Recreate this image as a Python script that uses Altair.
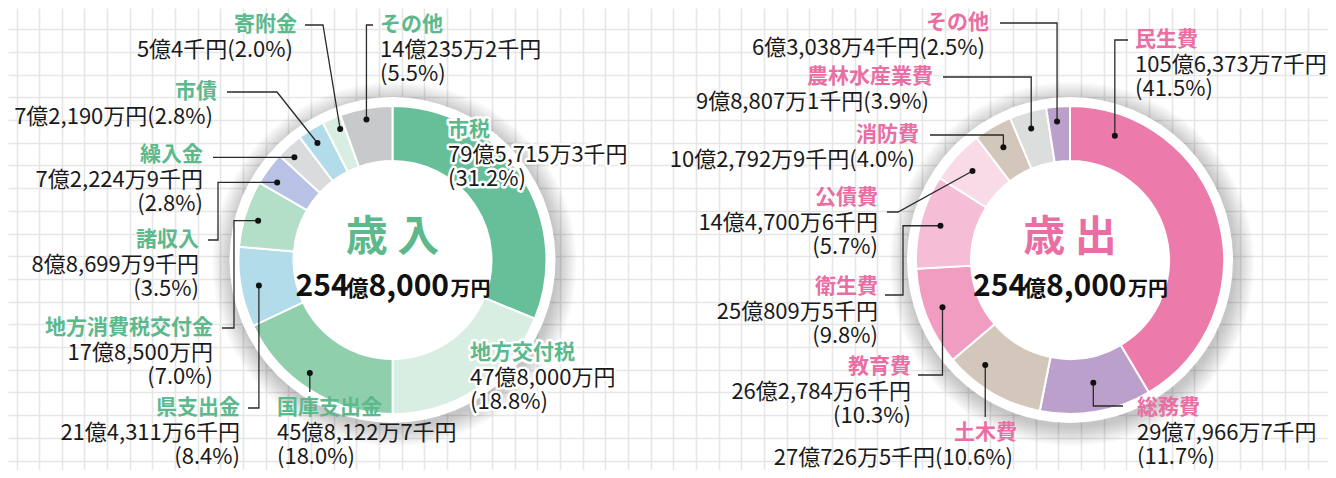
import altair as alt
import numpy as np
import pandas as pd

# ------------------------------------------------------------------ data
# 歳入 (revenue), amounts in 千円
rev_names = ["市税", "地方交付税", "国庫支出金", "県支出金", "地方消費税交付金",
             "諸収入", "繰入金", "市債", "寄附金", "その他"]
rev_amounts = [7957153, 4780000, 4581227, 2143116, 1785000,
               886999, 722249, 721900, 500004, 1402352]
rev_pcts = [31.2, 18.8, 18.0, 8.4, 7.0, 3.5, 2.8, 2.8, 2.0, 5.5]
rev_colors = ["#66bf98", "#d9eee2", "#8fcfac", "#b2dcea", "#b3dec7",
              "#b8c2e4", "#d9dbdc", "#b2dcea", "#d9eee2", "#c8c9ca"]

# 歳出 (expenditure), amounts in 千円
exp_names = ["民生費", "総務費", "土木費", "教育費", "衛生費",
             "公債費", "消防費", "農林水産業費", "その他"]
exp_amounts = [10563737, 2979667, 2707265, 2627846, 2508095,
               1447006, 1027929, 988071, 630384]
exp_pcts = [41.5, 11.7, 10.6, 10.3, 9.8, 5.7, 4.0, 3.9, 2.5]
exp_colors = ["#ec7aab", "#bca0cc", "#d3c6ba", "#f09dc1", "#f5bdd6",
              "#f9dbe8", "#d3c6ba", "#dcdddd", "#bca0cc"]

titles = ["歳 入", "歳 出"]
totals = [25480000, 25480000]

# ------------------------------------------------------------------ layout / style
FONT = "Noto Sans CJK JP"
GREEN = "#5cb98c"
PINK = "#ea6ea3"
CENTERS = [(392.5, 260.0), (1070.0, 260.0)]
R_IN, R_OUT, R_DISK = 99, 154, 163
NAME_SIZE, VAL_SIZE, LINE_H = 21, 22, 24.5
HALO = {"市税", "地方交付税"}

# label layout: align, x, name centre y, pct on own line, leader spec
rev_layout = [
    ("left", 448, 130, True, None),
    ("left", 470, 353, True, None),
    ("left", 277, 408, True, ("v", 392)),
    ("right", 240, 408, True, ("hv", 248, 408)),
    ("right", 213, 328, True, ("hvh", 222, 328, 234)),
    ("right", 199, 240, True, ("hvh", 208, 240, 218)),
    ("right", 203, 155, True, ("h", 213)),
    ("right", 217, 92, False, ("hd", 227, 92, 277)),
    ("right", 297, 25, False, ("hd", 305, 25, 323)),
    ("left", 380, 25, True, ("hv", 373, 25)),
]
rev_dots = [None, None, (0.56, 140), (0.48, 136), (0.45, 140), (0.3, 139),
            (0.35, 142), (0.43, 139), (0.72, 141), (0.47, 143)]

exp_layout = [
    ("left", 1135, 40, True, ("hv", 1128, 40)),
    ("left", 1137, 408, True, ("hv", 1123, 406)),
    ("right", 1017, 433, False, ("v", 417)),
    ("right", 911, 367, True, ("hv", 918, 375)),
    ("right", 878, 287, True, ("hvh", 885, 295, 903)),
    ("right", 878, 198, True, ("hd", 887, 212, 898)),
    ("right", 919, 135, False, ("hv", 930, 135)),
    ("right", 933, 77, False, ("hv", 943, 77)),
    ("right", 989, 23, False, ("hv", 1000, 23)),
]
exp_dots = [(0.133, 132), (0.475, 125), (0.72, 135), (0.54, 136), (0.51, 134),
            (0.5, 132), (0.47, 131), (0.46, 137), (0.4, 139)]
PAREN_SHIFT = 4  # right-aligned single lines ending in ")" sit a little left


def fmt_yen(v):
    oku, rest = divmod(v, 100000)
    man, sen = divmod(rest, 10)
    s = f"{oku}億"
    if man:
        s += f"{man:,}万"
    if sen:
        s += f"{sen}千"
    return s + "円"


def base_y(center, size):
    # Vega 'middle' baseline == alphabetic baseline shifted by round(0.3*size)
    return center + round(0.3 * size)


slices, leaders, dots, texts = [], [], [], []
lid = 0
for di, (names, amounts, pcts, colors, layout, dotspec, ncolor) in enumerate([
        (rev_names, rev_amounts, rev_pcts, rev_colors, rev_layout, rev_dots, GREEN),
        (exp_names, exp_amounts, exp_pcts, exp_colors, exp_layout, exp_dots, PINK)]):
    cx, cy = CENTERS[di]
    tot = float(sum(amounts))
    cum = np.concatenate([[0.0], np.cumsum(amounts)]) / tot * 2 * np.pi
    for i, nm in enumerate(names):
        t0, t1 = cum[i], cum[i + 1]
        slices.append(dict(cx=cx, cy=cy, t0=t0, t1=t1, color=colors[i], name=nm))
        al, ax, ay, split, leader = layout[i]
        halo = (di == 0 and nm in HALO)
        texts.append(dict(x=ax, y=base_y(ay, NAME_SIZE), text=[nm], color=ncolor,
                          kind="name", al=al, halo=halo))
        amt = fmt_yen(amounts[i])
        pct = f"({pcts[i]:.1f}%)"
        lines = [amt, pct] if split else [amt + pct]
        xx = ax - PAREN_SHIFT if (al == "right" and not split) else ax
        texts.append(dict(x=xx, y=base_y(ay + LINE_H, VAL_SIZE), text=lines,
                          color="#1a1a1a", kind="val", al=al, halo=halo))
        if dotspec[i] is not None:
            frac, rr = dotspec[i]
            a = t0 + frac * (t1 - t0)
            dx, dy = cx + rr * np.sin(a), cy - rr * np.cos(a)
            dots.append(dict(x=dx, y=dy))
            kind = leader[0]
            if kind == "v":
                pts = [(dx, dy), (dx, leader[1])]
            elif kind == "hv":
                pts = [(leader[1], leader[2]), (dx, leader[2]), (dx, dy)]
            elif kind == "hvh":
                pts = [(leader[1], leader[2]), (leader[3], leader[2]), (leader[3], dy), (dx, dy)]
            elif kind == "h":
                pts = [(leader[1], dy), (dx, dy)]
            else:  # hd
                pts = [(leader[1], leader[2]), (leader[3], leader[2]), (dx, dy)]
            for k, (px, py) in enumerate(pts):
                leaders.append(dict(id=lid, k=k, x=px, y=py))
            lid += 1

slices = pd.DataFrame(slices)
leaders = pd.DataFrame(leaders)
dots = pd.DataFrame(dots)
texts = pd.DataFrame(texts)

disk = pd.DataFrame([dict(cx=c[0], cy=c[1], t0=0.0, t1=2 * np.pi) for c in CENTERS])
shadow = pd.DataFrame([dict(cx=c[0] + 2, cy=c[1] + 4, t0=0.0, t1=2 * np.pi, r=R_DISK + 1 + 2 * k)
                       for c in CENTERS for k in range(10)])

title_df = pd.DataFrame([dict(x=CENTERS[i][0], y=238, text=titles[i],
                              color=[GREEN, PINK][i]) for i in range(2)])
# total "254億8,000万円" split into big/small segments
segs = []
for i in range(2):
    t = fmt_yen(totals[i])  # 254億8,000万円
    oku, rest = t.split("億")
    man = rest.split("万")[0]
    for s, sz, off in [(oku, 30, -97), ("億", 22, -46), (man, 30, -24), ("万円", 20, 58)]:
        segs.append(dict(x=CENTERS[i][0] + off, y=296, text=s, size=sz))
segs = pd.DataFrame(segs)

# ------------------------------------------------------------------ scales
grid_x = [round(16.5 + 22.65 * k, 2) for k in range(59)]
grid_y = [round(6.5 + 22.7 * k, 2) for k in range(21)]
xscale = alt.Scale(domain=[8, 1328], nice=False, zero=False)
yscale = alt.Scale(domain=[8, 470], nice=False, zero=False, reverse=True)
xaxis = alt.Axis(values=grid_x, grid=True, labels=False, ticks=False, domain=False,
                 title=None, gridColor="#e6e6e6", gridWidth=1.6)
yaxis = alt.Axis(values=grid_y, grid=True, labels=False, ticks=False, domain=False,
                 title=None, gridColor="#e6e6e6", gridWidth=1.6)


def X(f):
    return alt.X(f, type="quantitative", scale=xscale, axis=xaxis)


def Y(f):
    return alt.Y(f, type="quantitative", scale=yscale, axis=yaxis)


shadow_layer = alt.Chart(shadow).mark_arc(fill="#000000", opacity=0.025).encode(
    x=X("cx"), y=Y("cy"),
    theta=alt.Theta("t0:Q", scale=None), theta2=alt.Theta2("t1"),
    radius=alt.Radius("r:Q", scale=None))

disk_layer = alt.Chart(disk).mark_arc(fill="white", outerRadius=R_DISK).encode(
    x=X("cx"), y=Y("cy"),
    theta=alt.Theta("t0:Q", scale=None), theta2=alt.Theta2("t1"))

arc_layer = alt.Chart(slices).mark_arc(innerRadius=R_IN, outerRadius=R_OUT,
                                       stroke="white", strokeWidth=2).encode(
    x=X("cx"), y=Y("cy"),
    theta=alt.Theta("t0:Q", scale=None), theta2=alt.Theta2("t1"),
    color=alt.Color("color:N", scale=None))

leader_layer = alt.Chart(leaders).mark_line(color="#2a2a2a", strokeWidth=1.3).encode(
    x=X("x"), y=Y("y"), detail="id:N", order="k:Q")

dot_layer = alt.Chart(dots).mark_circle(size=36, color="#111111", opacity=1).encode(
    x=X("x"), y=Y("y"))

text_layers = []
for kind, size, weight in [("name", NAME_SIZE, "bold"), ("val", VAL_SIZE, "normal")]:
    for al in ["left", "right"]:
        sub = texts[(texts["kind"] == kind) & (texts["al"] == al)]
        if len(sub) == 0:
            continue
        hsub = sub[sub["halo"]]
        if len(hsub):
            text_layers.append(alt.Chart(hsub).mark_text(
                font=FONT, fontSize=size, fontWeight=weight, align=al,
                baseline="alphabetic", lineHeight=LINE_H, fill="white", stroke="white",
                strokeWidth=5, strokeJoin="round").encode(
                x=X("x"), y=Y("y"), text="text:N"))
        text_layers.append(alt.Chart(sub).mark_text(
            font=FONT, fontSize=size, fontWeight=weight, align=al,
            baseline="alphabetic", lineHeight=LINE_H).encode(
            x=X("x"), y=Y("y"), text="text:N", color=alt.Color("color:N", scale=None)))

title_layer = alt.Chart(title_df).mark_text(font=FONT, fontSize=42, fontWeight="bold",
                                            align="center", baseline="middle").encode(
    x=X("x"), y=Y("y"), text="text:N", color=alt.Color("color:N", scale=None))

seg_layer = alt.Chart(segs).mark_text(font=FONT, fontWeight="bold", align="left",
                                      baseline="alphabetic", color="#111111").encode(
    x=X("x"), y=Y("y"), text="text:N", size=alt.Size("size:Q", scale=None))

chart = alt.layer(shadow_layer, disk_layer, arc_layer, leader_layer, dot_layer,
                  *text_layers, title_layer, seg_layer).properties(
    width=1320, height=462, padding=0,
    autosize=alt.AutoSizeParams(type="none")).configure_view(stroke=None)

chart.save("out.html", embed_options={"renderer": "svg", "actions": False})
